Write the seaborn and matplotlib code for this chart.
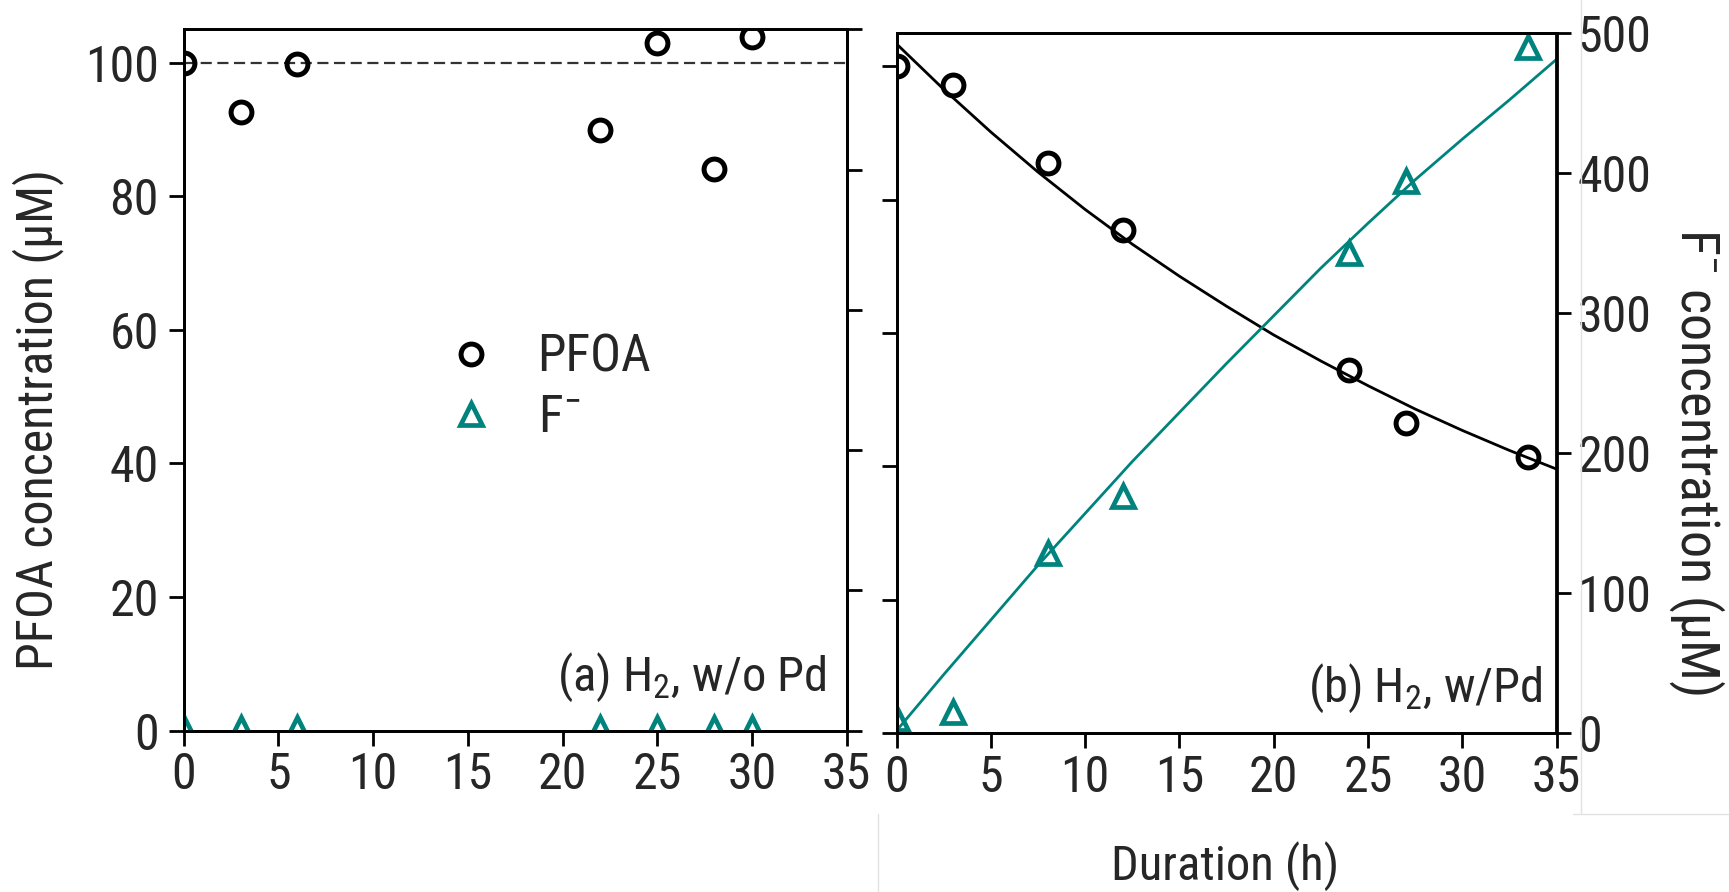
import matplotlib
matplotlib.use("Agg")
import matplotlib.pyplot as plt
from matplotlib import font_manager
from matplotlib.lines import Line2D
import numpy as np
import seaborn as sns

# ---------------- data ----------------
# (a) H2 without Pd
time_a = [0, 3, 6, 22, 25, 28, 30]
pfoa_a = [100.0, 92.6, 99.8, 89.9, 103.0, 84.1, 103.8]
fluoride_a = [2, 2, 2, 2, 2, 2, 2]
initial_level = 100

# (b) H2 with Pd
time_b = [0, 3, 8, 12, 24, 27, 33.5]
pfoa_b = [100.0, 97.2, 85.4, 75.4, 54.5, 46.5, 41.4]
fluoride_b = [10, 15, 129, 169, 343, 394, 490]

# fitted trends for (b)
fit_time = [0, 2.5, 5, 7.5, 10, 12.5, 15, 17.5, 20, 22.5, 25, 27.5, 30, 32.5, 35]
pfoa_fit = [103.3, 96.5, 90.1, 84.1, 78.5, 73.3, 68.5, 64.0, 59.7, 55.8, 52.1, 48.6, 45.4, 42.4, 39.6]
fluoride_fit = [2, 42, 81, 120, 157, 194, 229, 264, 298, 332, 364, 395, 424, 452, 481]

time_ticks = [0, 5, 10, 15, 20, 25, 30, 35]
pfoa_ticks = [0, 20, 40, 60, 80, 100]
fluoride_ticks = [0, 100, 200, 300, 400, 500]

# ---------------- style ----------------
sns.set_style("ticks")
names = {f.name for f in font_manager.fontManager.ttflist}
main_font = "Liberation Sans"
for cand in ["Liberation Sans Narrow", "Arial Narrow", "Roboto Condensed",
             "Open Sans Condensed", "DejaVu Sans Condensed"]:
    if cand in names:
        main_font = cand
        break
plt.rcParams["font.family"] = [main_font, "DejaVu Sans"]
plt.rcParams["mathtext.fontset"] = "custom"
plt.rcParams["mathtext.rm"] = main_font
plt.rcParams["mathtext.it"] = main_font + ":italic"
plt.rcParams["mathtext.bf"] = main_font + ":bold"

TEAL = "#00837d"
W, H = 1729, 892
fig = plt.figure(figsize=(W / 100, H / 100), dpi=100)


def rect(l, t, r, b):
    return [l / W, 1 - b / H, (r - l) / W, (b - t) / H]


axA = fig.add_axes(rect(183.7, 29.3, 846.7, 730.5))
axB = fig.add_axes(rect(896.7, 32.7, 1556.5, 733.3))
axA2 = axA.twinx()
axB2 = axB.twinx()

circle_kw = dict(marker="o", linestyle="", markersize=15, markerfacecolor="none",
                 markeredgecolor="black", markeredgewidth=3.6, color="black")
tri_kw = dict(marker="^", linestyle="", markersize=16, markerfacecolor="none",
              markeredgecolor=TEAL, markeredgewidth=3.4, color=TEAL)

# panel (a)
axA.axhline(initial_level, color="#333333", lw=1.6, ls=(0, (5, 2.5)), zorder=1)
sns.lineplot(x=np.array(time_a), y=np.array(pfoa_a), ax=axA, **circle_kw)
sns.lineplot(x=np.array(time_a), y=np.array(fluoride_a), ax=axA2, **tri_kw)

# panel (b)
sns.lineplot(x=np.array(fit_time), y=np.array(pfoa_fit), ax=axB, color="black", lw=2.0)
sns.lineplot(x=np.array(time_b), y=np.array(pfoa_b), ax=axB, **circle_kw)
sns.lineplot(x=np.array(fit_time), y=np.array(fluoride_fit), ax=axB2, color=TEAL, lw=2.0)
sns.lineplot(x=np.array(time_b), y=np.array(fluoride_b), ax=axB2, **tri_kw)

TICK_FS = 36
for ax in (axA, axB, axA2, axB2):
    for s in ax.spines.values():
        s.set_visible(True)
        s.set_linewidth(2.0)
        s.set_color("black")
    ax.set_xlim(0, 35)
    ax.set_xticks(time_ticks)
    ax.tick_params(direction="out", length=11, width=2.0, color="black",
                   labelsize=TICK_FS, pad=4)
    ax.set_xlabel("")
    ax.set_ylabel("")
    ax.grid(False)

for ax in (axA, axB):
    ax.set_ylim(0, 105)
    ax.set_yticks(pfoa_ticks)
for ax in (axA2, axB2):
    ax.set_ylim(0, 500)
    ax.set_yticks(fluoride_ticks)

axA.tick_params(axis="y", pad=7)
axA2.tick_params(axis="y", labelright=False)
axB.tick_params(axis="y", labelleft=False)
axB2.tick_params(axis="y", labelright=True, pad=4)

# legend
handles = [Line2D([], [], **circle_kw), Line2D([], [], **tri_kw)]
axA.legend(handles, ["PFOA", "F$^{-}$"], loc="upper left",
           bbox_to_anchor=(445 / W, 1 - 333 / H), bbox_transform=fig.transFigure,
           frameon=False, borderpad=0, borderaxespad=0, handlelength=1.0,
           handletextpad=0.8, labelspacing=0.2, fontsize=37)

# panel captions
fig.text(827 / W, 1 - 690.7 / H, "(a) H$_2$, w/o Pd", ha="right", va="baseline", fontsize=35)
fig.text(1543 / W, 1 - 701.7 / H, "(b) H$_2$, w/Pd", ha="right", va="baseline", fontsize=35)

# axis titles
fig.text(38 / W, 1 - 420 / H, "PFOA concentration (\u00b5M)", rotation=90,
         ha="center", va="center", fontsize=36)
fig.text(1697 / W, 1 - 462 / H, "F$^{-}$ concentration (\u00b5M)", rotation=270,
         ha="center", va="center", fontsize=39)
fig.text(1225 / W, 1 - 880 / H, "Duration (h)", ha="center", va="baseline", fontsize=35)

# faint panel borders around the lower caption area
for (x0, y0, x1, y1) in [(1581, 0, 1581, 814), (1573, 814, 1729, 814), (878, 814, 878, 892)]:
    fig.add_artist(Line2D([x0 / W, x1 / W], [1 - y0 / H, 1 - y1 / H],
                          transform=fig.transFigure, color="#e2e2e2", lw=1.0))

fig.savefig("out.png", dpi=100)
